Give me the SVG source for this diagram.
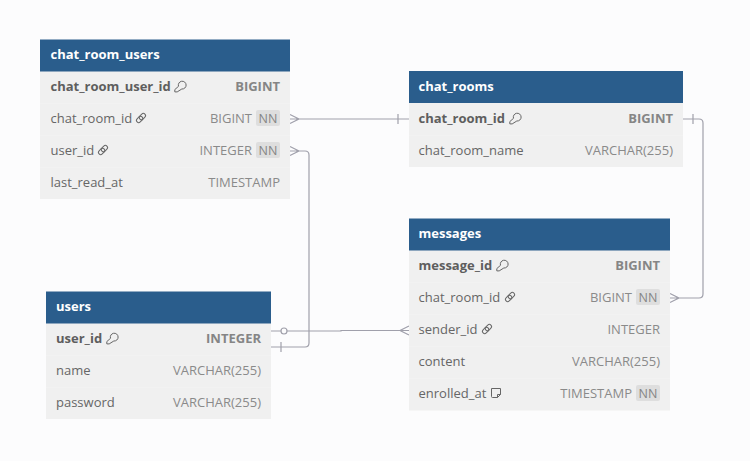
<svg xmlns="http://www.w3.org/2000/svg" width="750" height="461" viewBox="0 0 750 461">
<style>
text{font-family:"Open Sans","Noto Sans","Liberation Sans",sans-serif;font-size:13px}
.bg{fill:#fcfcfd}
.hdr{fill:#2a5d8c}
.row{fill:#f0f0f0}
.rowb{fill:none;stroke:#f2f2f2;stroke-width:1}
.title{fill:#fff;font-weight:700}
.n{fill:#666}
.nb{fill:#5e5e5e;font-weight:700}
.t{fill:#8a8a8a;text-anchor:end}
.tb{fill:#858585;font-weight:700;text-anchor:end}
.nnb{fill:#dedede}
.nn{fill:#858585;font-size:12.5px;text-anchor:middle}
.c{fill:none;stroke:#a0a0ab;stroke-width:1.2}
.i{fill:none;stroke:#666;stroke-width:1}
</style>
<defs>
<g id="key" class="i"><path d="M4.500 -5.200A3.900 3.900 0 1 1 7.800 -2.500L3.200 .4H.8V-1.900Z"/></g>
<g id="link" class="i"><rect x="-5.500" y="-2.200" width="7" height="4.400" rx="2.200" transform="rotate(-45)"/><rect x="-1.500" y="-2.200" width="7" height="4.400" rx="2.200" transform="rotate(-45)"/></g>
<g id="note" class="i"><path d="M-4.500 -4.500H4.500V1.500L1.500 4.500H-3.500Q-4.500 4.500-4.500 3.500ZM4.500 1.500H1.500V4.500"/></g>
</defs>
<rect class="bg" width="750" height="461"/>
<g id="connectors">
<path class="c" d="M290 119H409M290 114.500L299 119L290 123.500M398 114V124"/>
<path class="c" d="M290 151H305Q309 151 309 155V343Q309 347 305 347H271M290 146.500L299 151L290 155.500M281 342V352"/>
<path class="c" d="M271 331H341V330.500H409M409 326L400 330.500L409 335"/>
<circle cx="284" cy="331" r="3" fill="#fcfcfd" stroke="#a0a0ab" stroke-width="1.200"/>
<path class="c" d="M683 119H699Q703 119 703 123V294Q703 298 699 298H670M670 293.500L679 298L670 302.500M693 114V124"/>
</g>
<g id="chat_room_users">
<rect class="row" x="40" y="71" width="250" height="128"/>
<path class="rowb" d="M40 103.500H290M40 135.500H290M40 167.500H290"/>
<rect class="hdr" x="40" y="39.500" width="250" height="32"/>
<text class="title" x="50.500" y="59">chat_room_users</text>
<text class="nb" x="50.500" y="91">chat_room_user_id</text><use href="#key" x="174" y="91.500"/>
<text class="tb" x="280" y="91">BIGINT</text>
<text class="n" x="50.500" y="123">chat_room_id</text><use href="#link" x="141" y="118"/>
<text class="t" x="252" y="123">BIGINT</text><rect class="nnb" x="256" y="110" width="24" height="16" rx="2"/><text class="nn" x="268" y="123">NN</text>
<text class="n" x="50.500" y="155">user_id</text><use href="#link" x="103" y="150"/>
<text class="t" x="252" y="155">INTEGER</text><rect class="nnb" x="256" y="142" width="24" height="16" rx="2"/><text class="nn" x="268" y="155">NN</text>
<text class="n" x="50.500" y="187">last_read_at</text>
<text class="t" x="280" y="187">TIMESTAMP</text>
</g>
<g id="chat_rooms">
<rect class="row" x="409" y="103" width="274" height="64"/>
<path class="rowb" d="M409 135.500H683"/>
<rect class="hdr" x="409" y="71" width="274" height="32"/>
<text class="title" x="418.500" y="91">chat_rooms</text>
<text class="nb" x="418.500" y="123">chat_room_id</text><use href="#key" x="509" y="123.500"/>
<text class="tb" x="673" y="123">BIGINT</text>
<text class="n" x="418.500" y="155">chat_room_name</text>
<text class="t" x="673" y="155">VARCHAR(255)</text>
</g>
<g id="messages">
<rect class="row" x="409" y="250" width="261" height="160.500"/>
<path class="rowb" d="M409 282.500H670M409 314.500H670M409 346.500H670M409 378.500H670"/>
<rect class="hdr" x="409" y="218.500" width="261" height="32"/>
<text class="title" x="418.500" y="238">messages</text>
<text class="nb" x="418.500" y="270">message_id</text><use href="#key" x="496" y="270.500"/>
<text class="tb" x="660" y="270">BIGINT</text>
<text class="n" x="418.500" y="302">chat_room_id</text><use href="#link" x="510" y="297"/>
<text class="t" x="632" y="302">BIGINT</text><rect class="nnb" x="636" y="289" width="24" height="16" rx="2"/><text class="nn" x="648" y="302">NN</text>
<text class="n" x="418.500" y="334">sender_id</text><use href="#link" x="487" y="329"/>
<text class="t" x="660" y="334">INTEGER</text>
<text class="n" x="418.500" y="366">content</text>
<text class="t" x="660" y="366">VARCHAR(255)</text>
<text class="n" x="418.500" y="398">enrolled_at</text><use href="#note" x="496" y="393"/>
<text class="t" x="632" y="398">TIMESTAMP</text><rect class="nnb" x="636" y="385" width="24" height="16" rx="2"/><text class="nn" x="648" y="398">NN</text>
</g>
<g id="users">
<rect class="row" x="46" y="323" width="225" height="96"/>
<path class="rowb" d="M46 355.500H271M46 387.500H271"/>
<rect class="hdr" x="46" y="291.500" width="225" height="32"/>
<text class="title" x="56" y="311">users</text>
<text class="nb" x="56" y="343">user_id</text><use href="#key" x="106" y="343.500"/>
<text class="tb" x="261" y="343">INTEGER</text>
<text class="n" x="56" y="375">name</text>
<text class="t" x="261" y="375">VARCHAR(255)</text>
<text class="n" x="56" y="407">password</text>
<text class="t" x="261" y="407">VARCHAR(255)</text>
</g>
</svg>
